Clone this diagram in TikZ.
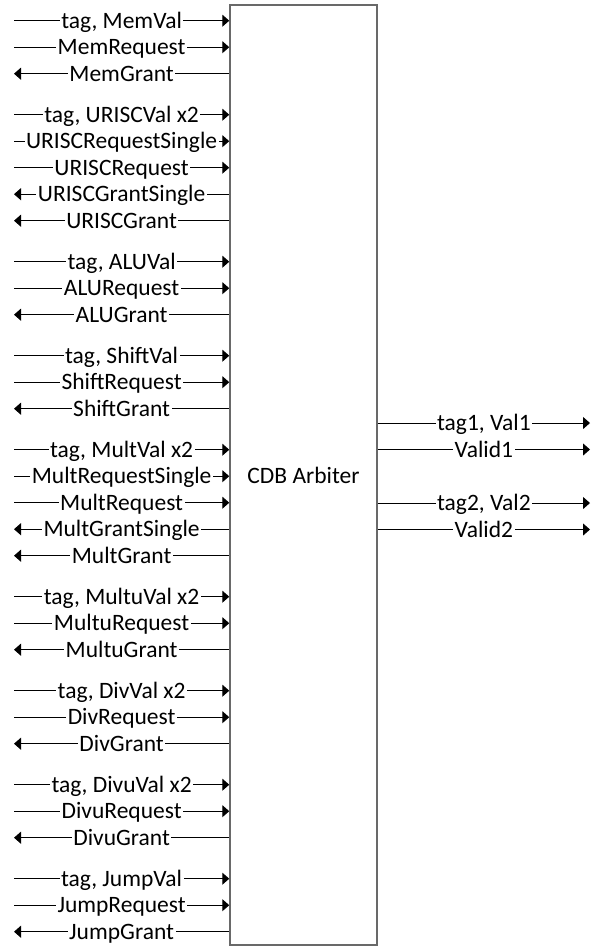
\documentclass[tikz,border=0pt]{standalone}
\usepackage{fontspec}
\setmainfont{Carlito}
\usetikzlibrary{arrows.meta}
\definecolor{boxgray}{RGB}{105,105,105}

% signal into the arbiter: arrow at the box
\newcommand{\toarb}[3]{%
  \coordinate (#1) at (14,#2);
  \draw[sig,-{Triangle[length=7pt,width=12pt]}] (#1) -- (#1 -| arb.west) node[lbl,midway]{#3};}
% signal out of the arbiter on the left side: arrow at the free end
\newcommand{\fromarb}[3]{%
  \coordinate (#1) at (14,#2);
  \draw[sig,{Triangle[length=7pt,width=12pt]}-] (#1) -- (#1 -| arb.west) node[lbl,midway]{#3};}
% result bus on the right side
\newcommand{\outarb}[3]{%
  \coordinate (#1) at (590,#2);
  \draw[sig,-{Triangle[length=7pt,width=12pt]}] (#1 -| arb.east) -- (#1) node[lbl,midway]{#3};}

\begin{document}
\begin{tikzpicture}[x=1pt,y=-1pt,
  sig/.style={draw=black, line width=1pt},
  lbl/.style={fill=white, inner xsep=1.5pt, inner ysep=1pt,
    text height=15pt, text depth=0pt, font=\fontsize{23.5}{28}\selectfont},
  arbbox/.style={draw=boxgray, line width=1.5pt, fill=white,
    minimum width=147pt, minimum height=940pt, inner sep=0pt,
    font=\fontsize{23.5}{28}\selectfont}]

\useasboundingbox (0,0) rectangle (592,947);

\node[arbbox] (arb) at (303.5,475) {CDB Arbiter};

% memory unit
\toarb{memval}{20.7}{tag, MemVal}
\toarb{memreq}{47.2}{MemRequest}
\fromarb{memgnt}{73.7}{MemGrant}
% URISC unit
\toarb{uriscval}{114.7}{tag, URISCVal x2}
\toarb{uriscreqs}{141.2}{URISCRequestSingle}
\toarb{uriscreq}{167.7}{URISCRequest}
\fromarb{uriscgnts}{194.2}{URISCGrantSingle}
\fromarb{uriscgnt}{220.7}{URISCGrant}
% ALU
\toarb{aluval}{261.7}{tag, ALUVal}
\toarb{alureq}{288.2}{ALURequest}
\fromarb{alugnt}{314.7}{ALUGrant}
% shifter
\toarb{shiftval}{355.7}{tag, ShiftVal}
\toarb{shiftreq}{382.2}{ShiftRequest}
\fromarb{shiftgnt}{408.7}{ShiftGrant}
% multiplier
\toarb{multval}{449.7}{tag, MultVal x2}
\toarb{multreqs}{476.2}{MultRequestSingle}
\toarb{multreq}{502.7}{MultRequest}
\fromarb{multgnts}{529.2}{MultGrantSingle}
\fromarb{multgnt}{555.7}{MultGrant}
% unsigned multiplier
\toarb{multuval}{596.7}{tag, MultuVal x2}
\toarb{multureq}{623.2}{MultuRequest}
\fromarb{multugnt}{649.7}{MultuGrant}
% divider
\toarb{divval}{690.7}{tag, DivVal x2}
\toarb{divreq}{717.2}{DivRequest}
\fromarb{divgnt}{743.7}{DivGrant}
% unsigned divider
\toarb{divuval}{784.7}{tag, DivuVal x2}
\toarb{divureq}{811.2}{DivuRequest}
\fromarb{divugnt}{837.7}{DivuGrant}
% jump unit
\toarb{jumpval}{878.7}{tag, JumpVal}
\toarb{jumpreq}{905.2}{JumpRequest}
\fromarb{jumpgnt}{931.7}{JumpGrant}

% common data buses
\outarb{cdb1}{423}{tag1, Val1}
\outarb{valid1}{449.5}{Valid1}
\outarb{cdb2}{503}{tag2, Val2}
\outarb{valid2}{529.5}{Valid2}
\end{tikzpicture}
\end{document}
